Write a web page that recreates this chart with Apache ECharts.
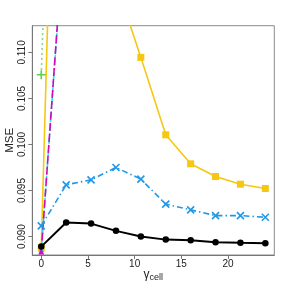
<!DOCTYPE html>
<html><head><meta charset="utf-8">
<script src="https://cdn.jsdelivr.net/npm/echarts@6/dist/echarts.min.js"></script>
<style>html,body{margin:0;padding:0;background:#fff}#c{width:288px;height:288px}</style>
</head><body><div id="c"></div>
<script>
const xVals = [0, 2.667, 5.333, 8, 10.667, 13.333, 16, 18.667, 21.333, 24];
const blackVals = [0.08891, 0.09152, 0.09141, 0.09062, 0.09000, 0.08967, 0.08961, 0.08939, 0.08932, 0.08928];
const blueVals = [0.09116, 0.09562, 0.09616, 0.09750, 0.09624, 0.09352, 0.09290, 0.09228, 0.09228, 0.09210];
const goldVals = [0.08878, 0.185, 0.150, 0.1176, 0.10946, 0.10105, 0.09790, 0.09652, 0.09569, 0.09522];
const greenVals = [0.10758, 0.186, 0.175, 0.165, 0.158, 0.152, 0.147, 0.143, 0.140, 0.138];
const cyanVals = [0.08837, 0.1262, 0.135, 0.140, 0.142, 0.143, 0.144, 0.145, 0.146, 0.147];
const magentaVals = [0.08837, 0.1265, 0.136, 0.141, 0.143, 0.144, 0.145, 0.146, 0.147, 0.148];
const xTicks = [0, 5, 10, 15, 20];
const yTicks = [0.090, 0.095, 0.100, 0.105, 0.110];

const pts = v => xVals.map((x, i) => [x, v[i]]);
const font = 'Liberation Sans, Arial, sans-serif';
const chart = echarts.init(document.getElementById('c'));
const xShape = 'path://M0,0L10,10M10,0L0,10';
const plusShape = 'path://M5,0L5,10M0,5L10,5';

function ser(name, vals, color, lineType, width, symbol, size, z, stroke) {
  return {
    name, type: 'line', data: pts(vals), z, clip: true,
    symbol, symbolSize: size, showSymbol: true,
    lineStyle: { color, width, type: lineType },
    itemStyle: stroke ? { color: 'none', borderColor: color, borderWidth: 1.6 } : { color, borderWidth: 0 },
    animation: false, emphasis: { disabled: true }
  };
}

chart.setOption({
  animation: false,
  grid: { left: 32.3, right: 13.7, top: 25.7, bottom: 33, outerBoundsMode: 'none', containLabel: false, show: true, borderColor: '#8a8a8a', borderWidth: 1, backgroundColor: 'transparent' },
  xAxis: {
    type: 'value', min: -0.96, max: 24.96,
    name: '{g|γ}{s|cell}', nameLocation: 'middle', nameGap: 13, nameMoveOverlap: false,
    nameTextStyle: { rich: { g: { fontSize: 12, fontFamily: font, color: '#222' }, s: { fontSize: 9, fontFamily: font, color: '#222', padding: [5, 0, 0, 0] } } },
    axisLine: { show: true, onZero: false, lineStyle: { color: '#777', width: 1 } },
    axisTick: { show: true, length: 4, customValues: xTicks, lineStyle: { color: '#777' } },
    axisLabel: { customValues: xTicks, fontSize: 10, fontFamily: font, color: '#222', margin: 4 },
    splitLine: { show: false }
  },
  yAxis: {
    type: 'value', min: 0.0880, max: 0.1129,
    name: 'MSE', nameLocation: 'middle', nameGap: 16, nameRotate: 90, nameMoveOverlap: false,
    nameTextStyle: { fontSize: 11.5, fontFamily: font, color: '#222' },
    axisLine: { show: true, onZero: false, lineStyle: { color: '#777', width: 1 } },
    axisTick: { show: true, length: 4, customValues: yTicks, lineStyle: { color: '#777' } },
    axisLabel: { customValues: yTicks, fontSize: 10, fontFamily: font, color: '#222', margin: 5, rotate: 90, formatter: v => v.toFixed(3) },
    splitLine: { show: false }
  },
  series: [
    ser('gold', goldVals, '#F5C710', 'solid', 1.6, 'rect', 7, 2),
    ser('green', greenVals, '#61D04F', [1.5, 3.5], 1.6, plusShape, 9, 3, true),
    ser('cyan', cyanVals, '#28E2E5', [2, 2, 7, 2], 1.6, 'diamond', 6, 4),
    ser('magenta', magentaVals, '#CD0BBC', [8, 3], 1.6, 'triangle', 6, 5),
    ser('blue', blueVals, '#2297E6', [6, 3, 1.5, 3], 1.6, xShape, 7, 6, true),
    ser('black', blackVals, '#000000', 'solid', 2, 'circle', 6.5, 7)
  ]
});
</script></body></html>
